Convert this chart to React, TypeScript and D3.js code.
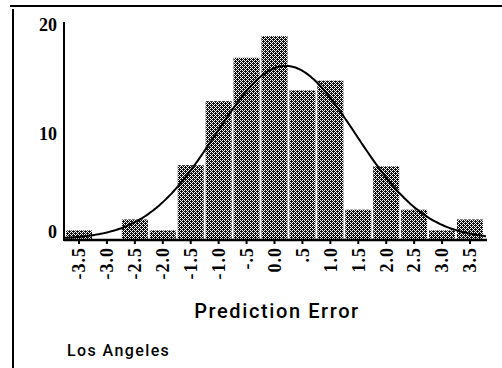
import React from "react";
import * as d3 from "d3";

// Histogram bin centres (prediction error) and share of cases per bin (%)
const binCenters = [-3.5, -3.0, -2.5, -2.0, -1.5, -1.0, -0.5, 0.0, 0.5, 1.0, 1.5, 2.0, 2.5, 3.0, 3.5];
const binLabels = ["-3.5", "-3.0", "-2.5", "-2.0", "-1.5", "-1.0", "-.5", "0.0", ".5", "1.0", "1.5", "2.0", "2.5", "3.0", "3.5"];
const binPercents = [0.8, 0, 1.8, 0.8, 6.8, 12.7, 16.7, 18.7, 13.7, 14.6, 2.7, 6.7, 2.7, 0.8, 1.8];
const yTicks = [0, 10, 20];

// Fitted normal curve parameters
const fitMean = 0.2;
const fitSd = 1.25;
const binWidth = 0.5;

const W = 502;
const H = 368;

export default function App() {
  const x = d3.scaleLinear().domain([-3.5, 3.5]).range([79, 470]);
  const y = d3.scaleLinear().domain([0, 20]).range([239, 22]);
  const step = x(binWidth) - x(0);
  const bw = step - 2;

  const axisLeft = 64;
  const axisRight = 487;

  // normal density scaled to percent per bin
  const dens = (v: number) =>
    (100 * binWidth) / (fitSd * Math.sqrt(2 * Math.PI)) *
    Math.exp(-0.5 * ((v - fitMean) / fitSd) ** 2);
  const curveStart = x.invert(axisLeft + 1);
  const curveEnd = x.invert(axisRight - 1);
  const curvePts = d3.range(0, 201).map((i) => {
    const v = curveStart + ((curveEnd - curveStart) * i) / 200;
    return [x(v), y(dens(v))] as [number, number];
  });
  const line = d3.line().curve(d3.curveBasis);

  const yLabelPos = (v: number) => Math.min(y(v) + 3, y(0) - 7);

  return (
    <svg
      width={W}
      height={H}
      viewBox={`0 0 ${W} ${H}`}
      style={{ position: "absolute", left: 0, top: 0, background: "#fff" }}
    >
      <defs>
        <pattern id="dither" width={4} height={4} patternUnits="userSpaceOnUse">
          <rect width={4} height={4} fill="#111" />
          <rect x={0} y={0} width={1} height={1} fill="#fff" />
          <rect x={1} y={1} width={1} height={1} fill="#fff" />
          <rect x={2} y={2} width={1} height={1} fill="#fff" />
          <rect x={3} y={3} width={1} height={1} fill="#fff" />
          <rect x={2} y={0} width={1} height={1} fill="#fff" />
          <rect x={0} y={2} width={1} height={1} fill="#fff" />
        </pattern>
      </defs>

      {/* frame */}
      <line x1={10} x2={W} y1={6} y2={6} stroke="#000" strokeWidth={2} />
      <line x1={13} x2={13} y1={9} y2={H} stroke="#000" strokeWidth={2} />

      {/* bars */}
      {binCenters.map((c, i) =>
        binPercents[i] > 0 ? (
          <rect
            key={c}
            x={x(c) - bw / 2}
            y={y(binPercents[i])}
            width={bw}
            height={y(0) - y(binPercents[i])}
            fill="url(#dither)"
          />
        ) : null
      )}

      {/* fitted curve */}
      <path d={line(curvePts) || ""} fill="none" stroke="#000" strokeWidth={2} />

      {/* axes */}
      <line x1={axisLeft} x2={axisLeft} y1={y(20)} y2={y(0) + 2} stroke="#000" strokeWidth={2} />
      <line x1={axisLeft} x2={axisRight} y1={y(0) + 1} y2={y(0) + 1} stroke="#000" strokeWidth={2.5} />

      {/* y tick labels */}
      {yTicks.map((t) => (
        <text
          key={t}
          x={57}
          y={yLabelPos(t)}
          dy="0.35em"
          textAnchor="end"
          fontFamily="'Liberation Serif', serif"
          fontWeight="bold"
          fontSize={18}
          fill="#000"
        >
          {t}
        </text>
      ))}

      {/* x ticks and labels */}
      {binCenters.map((c, i) => (
        <g key={c}>
          <line x1={x(c)} x2={x(c)} y1={y(0) + 2} y2={y(0) + 5} stroke="#000" strokeWidth={2} />
          <text
            transform={`translate(${x(c)},${y(0) + 8}) rotate(-90)`}
            textAnchor="end"
            dy="0.35em"
            fontFamily="'Liberation Serif', serif"
            fontWeight="bold"
            fontSize={18}
            letterSpacing={1}
            fill="#000"
          >
            {binLabels[i]}
          </text>
        </g>
      ))}

      {/* titles */}
      <text
        x={277}
        y={318}
        textAnchor="middle"
        fontFamily="Roboto, 'Liberation Sans', sans-serif"
        fontWeight={500}
        fontSize={20}
        letterSpacing={1.6}
        fill="#000"
      >
        Prediction Error
      </text>
      <text
        x={67}
        y={356}
        fontFamily="Roboto, 'Liberation Sans', sans-serif"
        fontWeight={500}
        fontSize={16}
        letterSpacing={1.4}
        fill="#000"
      >
        Los Angeles
      </text>
    </svg>
  );
}
